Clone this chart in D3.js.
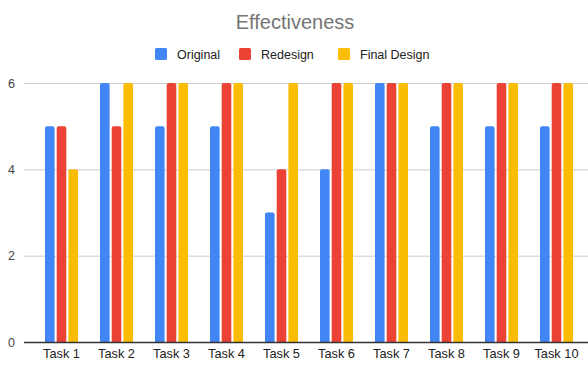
<!DOCTYPE html>
<html>
<head>
<meta charset="utf-8">
<script src="https://cdn.jsdelivr.net/npm/d3@7"></script>
<style>
  body { margin: 0; background: #fff; }
  text { font-family: Arial, "Liberation Sans", sans-serif; }
</style>
</head>
<body>
<div id="chart"></div>
<script>
// Datos del gráfico
const tasks = ["Task 1", "Task 2", "Task 3", "Task 4", "Task 5", "Task 6", "Task 7", "Task 8", "Task 9", "Task 10"];
const seriesNames = ["Original", "Redesign", "Final Design"];
const original = [5, 6, 5, 5, 3, 4, 6, 5, 5, 5];
const redesign = [5, 5, 6, 6, 4, 6, 6, 6, 6, 6];
const finalDesign = [4, 6, 6, 6, 6, 6, 6, 6, 6, 6];
const yTicks = [0, 2, 4, 6];
const colors = ["#4285F4", "#EA4335", "#FBBC04"];

const width = 588, height = 365;
const font = "Arial, 'Liberation Sans', sans-serif";
const svg = d3.select("#chart").append("svg")
    .attr("width", width)
    .attr("height", height);

// Escalas
const x = d3.scaleBand().domain(tasks).range([45, 573]).paddingInner(0.4).paddingOuter(0);
const xSub = d3.scaleBand().domain(seriesNames).range([0, x.bandwidth()]).paddingInner(0.18);
const y = d3.scaleLinear().domain([0, 6]).range([342, 83]);

// Título
svg.append("text")
    .attr("x", 295).attr("y", 29)
    .attr("text-anchor", "middle")
    .style("font-size", "20px")
    .style("fill", "#757575")
    .text("Effectiveness");

// Leyenda
const legendX = [155, 239, 338];
const legend = svg.append("g");
seriesNames.forEach((name, i) => {
    legend.append("rect")
        .attr("x", legendX[i]).attr("y", 48)
        .attr("width", 12).attr("height", 12)
        .attr("rx", 1.5)
        .attr("fill", colors[i]);
    legend.append("text")
        .attr("x", legendX[i] + 22).attr("y", 58.5)
        .style("font-size", "12.5px")
        .style("fill", "#222")
        .text(name);
});

// Líneas de cuadrícula y etiquetas del eje Y
const yAxis = svg.append("g")
    .attr("transform", "translate(24,0)")
    .call(d3.axisLeft(y).tickValues(yTicks).tickSize(-(width - 24)).tickFormat(d3.format("d")));
yAxis.select(".domain").remove();
yAxis.selectAll(".tick line").attr("stroke", "#cccccc");
yAxis.selectAll(".tick text")
    .attr("x", -9)
    .style("font-size", "12.5px")
    .style("font-family", font)
    .style("fill", "#444");

// Barras
const data = tasks.map((t, i) => ({ task: t, values: [original[i], redesign[i], finalDesign[i]] }));
const groups = svg.append("g")
    .selectAll("g")
    .data(data)
    .enter()
    .append("g")
    .attr("transform", d => `translate(${x(d.task)},0)`);

groups.selectAll("path")
    .data(d => d.values.map((v, i) => ({ name: seriesNames[i], value: v, i })))
    .enter()
    .append("path")
    .attr("fill", d => colors[d.i])
    .attr("d", d => {
        const x0 = xSub(d.name), w = xSub.bandwidth();
        const y0 = y(d.value), y1 = y(0), r = 2;
        return `M${x0},${y1}V${y0 + r}Q${x0},${y0} ${x0 + r},${y0}H${x0 + w - r}Q${x0 + w},${y0} ${x0 + w},${y0 + r}V${y1}Z`;
    });

// Eje X
const xAxis = svg.append("g")
    .attr("transform", "translate(0,342)")
    .call(d3.axisBottom(x).tickSize(0).tickPadding(7));
xAxis.select(".domain").remove();
xAxis.selectAll(".tick text")
    .style("font-size", "12.8px")
    .style("font-family", font)
    .style("fill", "#222");

svg.append("line")
    .attr("x1", 24).attr("x2", width)
    .attr("y1", 342.5).attr("y2", 342.5)
    .attr("stroke", "#333")
    .attr("stroke-width", 1.3);
</script>
</body>
</html>
